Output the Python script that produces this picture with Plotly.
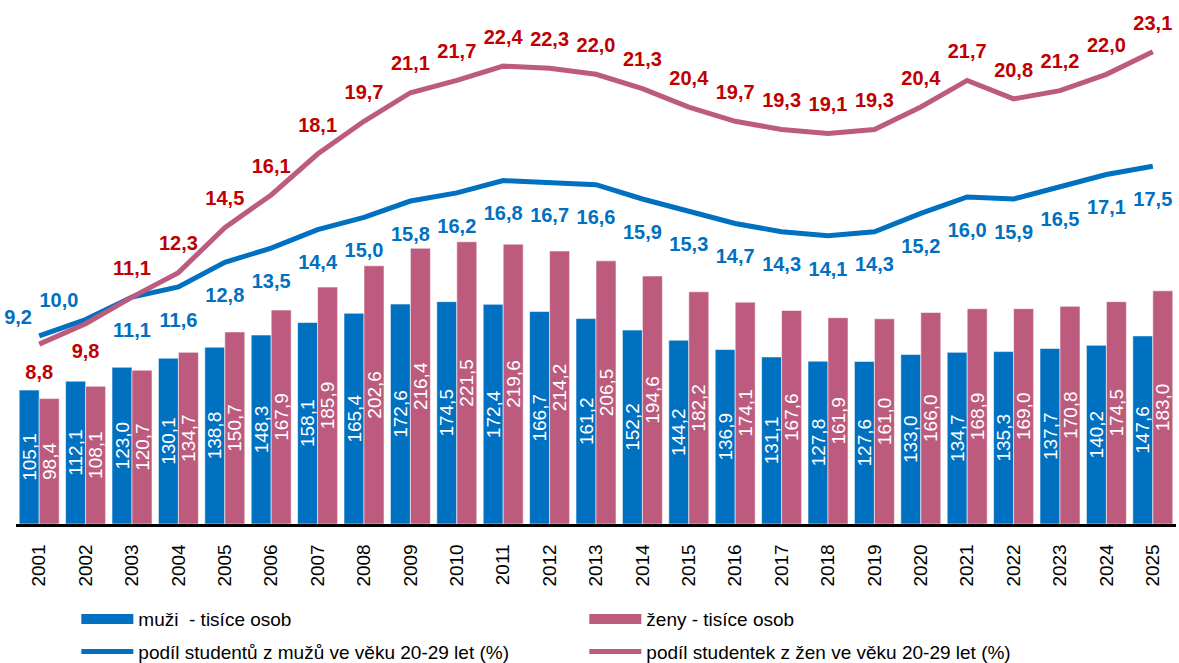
import plotly.graph_objects as go

years = [str(y) for y in range(2001, 2026)]
muzi = [105.1, 112.1, 123.0, 130.1, 138.8, 148.3, 158.1, 165.4, 172.6, 174.5, 172.4, 166.7, 161.2,
        152.2, 144.2, 136.9, 131.1, 127.8, 127.6, 133.0, 134.7, 135.3, 137.7, 140.2, 147.6]
zeny = [98.4, 108.1, 120.7, 134.7, 150.7, 167.9, 185.9, 202.6, 216.4, 221.5, 219.6, 214.2, 206.5,
        194.6, 182.2, 174.1, 167.6, 161.9, 161.0, 166.0, 168.9, 169.0, 170.8, 174.5, 183.0]
podil_muzi = [9.2, 10.0, 11.1, 11.6, 12.8, 13.5, 14.4, 15.0, 15.8, 16.2, 16.8, 16.7, 16.6,
              15.9, 15.3, 14.7, 14.3, 14.1, 14.3, 15.2, 16.0, 15.9, 16.5, 17.1, 17.5]
podil_zeny = [8.8, 9.8, 11.1, 12.3, 14.5, 16.1, 18.1, 19.7, 21.1, 21.7, 22.4, 22.3, 22.0,
              21.3, 20.4, 19.7, 19.3, 19.1, 19.3, 20.4, 21.7, 20.8, 21.2, 22.0, 23.1]

name_muzi = "muži\u00a0 - tisíce osob"
name_zeny = "ženy - tisíce osob"
name_pm = "podíl studentů z mužů ve věku 20-29 let (%)"
name_pz = "podíl studentek z žen ve věku 20-29 let (%)"

BLUE = "#0070C0"
PINK = "#BC5B7E"
RED = "#C00000"
FONT = "Liberation Sans, Arial, sans-serif"

n = len(years)
pos_m = ["top left", "top left"] + ["bottom center"] * (n - 2)
size_m = [10, 10] + [38] * (n - 2)
pos_z = ["bottom center", "bottom center"] + ["top center"] * (n - 2)
size_z = [30, 30] + [26] * (n - 2)

fig = go.Figure()

for name, vals, col in [(name_muzi, muzi, BLUE), (name_zeny, zeny, PINK)]:
    fig.add_trace(go.Bar(
        x=years, y=vals, name=name, showlegend=False,
        marker=dict(color=col, line=dict(color="rgba(255,255,255,0.55)", width=1)),
        texttemplate="%{y:.1f}", textposition="inside", insidetextanchor="middle",
        textangle=-90, constraintext="none",
        insidetextfont=dict(color="white", size=19, family=FONT),
    ))

for name, vals, col, tcol, pos, sz in [(name_pm, podil_muzi, BLUE, BLUE, pos_m, size_m),
                                       (name_pz, podil_zeny, PINK, RED, pos_z, size_z)]:
    fig.add_trace(go.Scatter(
        x=years, y=vals, name=name, yaxis="y2", showlegend=False,
        mode="lines+markers+text",
        line=dict(color=col, width=5),
        marker=dict(size=sz, color="rgba(0,0,0,0)", line=dict(width=0, color="rgba(0,0,0,0)")),
        texttemplate="%{y:.1f}", textposition=pos,
        textfont=dict(color=tcol, size=20, family=FONT, weight="bold"),
        cliponaxis=False,
    ))

# legend entries
fig.add_trace(go.Scatter(x=[None], y=[None], mode="lines", name=name_muzi,
                         line=dict(color=BLUE, width=10), legend="legend"))
fig.add_trace(go.Scatter(x=[None], y=[None], mode="lines", name=name_zeny,
                         line=dict(color=PINK, width=10), legend="legend"))
fig.add_trace(go.Scatter(x=[None], y=[None], mode="lines", name=name_pm,
                         line=dict(color=BLUE, width=5), legend="legend2"))
fig.add_trace(go.Scatter(x=[None], y=[None], mode="lines", name=name_pz,
                         line=dict(color=PINK, width=5), legend="legend2"))

leg_common = dict(orientation="h", xanchor="left", yanchor="middle",
                  entrywidth=441, entrywidthmode="pixels", itemwidth=52,
                  font=dict(size=19, color="black", family=FONT),
                  bgcolor="rgba(0,0,0,0)", traceorder="normal")

fig.update_layout(
    width=1179, height=663, autosize=False,
    margin=dict(l=16, r=3, t=13, b=139, autoexpand=False),
    paper_bgcolor="white", plot_bgcolor="white",
    separators=", ",
    barmode="group", bargap=0.138, bargroupgap=0,
    font=dict(family=FONT, color="black"),
    xaxis=dict(type="category", tickangle=-90, showgrid=False, ticks="",
               range=[-0.5, n - 0.5],
               showline=True, linecolor="black", linewidth=2.5, automargin=False,
               ticklabelstandoff=10,
               tickfont=dict(size=19, color="black", family=FONT)),
    yaxis=dict(range=[0, 401], visible=False, showgrid=False, zeroline=False),
    yaxis2=dict(range=[0, 25.0], overlaying="y", side="right", visible=False,
                showgrid=False, zeroline=False),
    legend=dict(x=0.052, y=-0.186, **leg_common),
    legend2=dict(x=0.052, y=-0.25, **leg_common),
)

fig.write_html("out.html", config={"displayModeBar": False},
               post_script="document.body.style.margin='0';")
